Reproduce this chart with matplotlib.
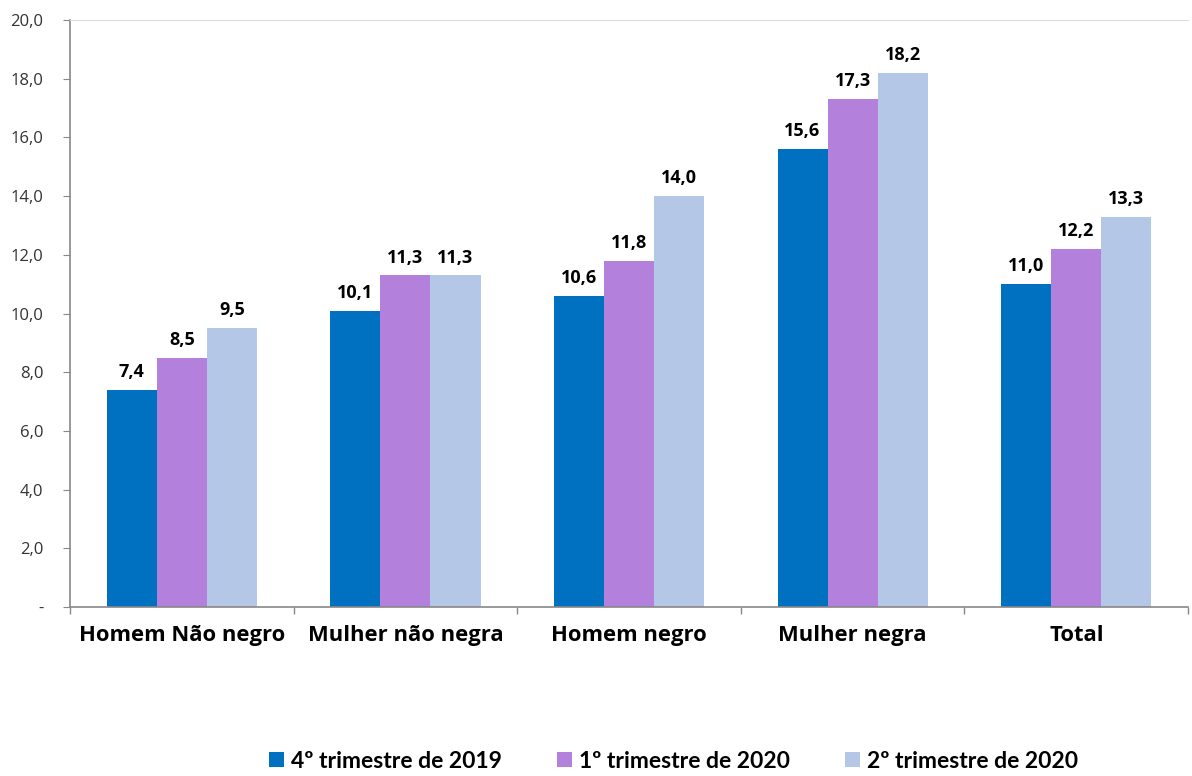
import matplotlib
matplotlib.use("Agg")
import matplotlib.pyplot as plt
import numpy as np
from matplotlib.ticker import FixedLocator, FuncFormatter

categories = ["Homem Não negro", "Mulher não negra", "Homem negro", "Mulher negra", "Total"]
series_names = ["4º trimestre de 2019", "1º trimestre de 2020", "2º trimestre de 2020"]
q4_2019 = [7.4, 10.1, 10.6, 15.6, 11.0]
q1_2020 = [8.5, 11.3, 11.8, 17.3, 12.2]
q2_2020 = [9.5, 11.3, 14.0, 18.2, 13.3]
colors = ["#0070C0", "#B381DB", "#B4C7E7"]

plt.rcParams['font.family'] = ['Open Sans', 'DejaVu Sans']

fig = plt.figure(figsize=(11.92, 7.76), dpi=100)
ax = fig.add_axes([0.0587, 0.2178, 0.938, 0.7564])

x = np.arange(len(categories))
w = 0.224
for i, (vals, name, c) in enumerate(zip([q4_2019, q1_2020, q2_2020], series_names, colors)):
    bars = ax.bar(x + (i - 1) * w, vals, width=w, color=c, label=name)
    for b, v in zip(bars, vals):
        ax.text(b.get_x() + b.get_width() / 2, v + 0.3, f"{v:.1f}".replace(".", ","),
                ha="center", va="bottom", fontsize=13, fontweight="bold", color="black")

ax.set_xlim(-0.5, len(categories) - 0.5)
ax.set_ylim(0, 20)
ax.yaxis.set_major_locator(FixedLocator(np.arange(0, 20.01, 2)))
ax.yaxis.set_major_formatter(FuncFormatter(lambda v, p: "-" if v == 0 else f"{v:.1f}".replace(".", ",")))
ax.set_xticks(x)
ax.set_xticklabels(categories, fontsize=15.8, fontweight="bold")
ax.tick_params(axis="x", length=0, pad=13)
ax.set_xticks(np.arange(-0.5, len(categories)), minor=True)
ax.tick_params(axis="x", which="minor", length=5, color="#888888", width=1)
ax.tick_params(axis="y", length=5, color="#888888", labelsize=12, labelcolor="#333333", pad=14)

ax.spines["right"].set_visible(False)
ax.spines["top"].set_color("#DDDDDD")
ax.spines["top"].set_linewidth(0.8)
for s in ["left", "bottom"]:
    ax.spines[s].set_color("#888888")
    ax.spines[s].set_linewidth(1.2)

leg = fig.legend(loc="lower center", bbox_to_anchor=(0.565, -0.021), ncol=3, frameon=False,
                 handlelength=0.65, handleheight=0.65, handletextpad=0.3, columnspacing=2.4,
                 prop={"family": ["Lato", "DejaVu Sans"], "weight": "bold", "size": 16.5})

fig.savefig("out.png", dpi=100)
